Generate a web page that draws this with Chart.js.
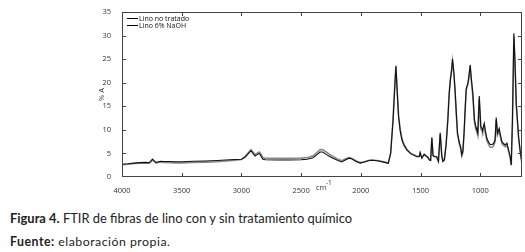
<!DOCTYPE html>
<html>
<head>
<meta charset="utf-8">
<script src="https://cdn.jsdelivr.net/npm/chart.js@4.4.1/dist/chart.umd.min.js"></script>
<style>
  html, body { margin: 0; padding: 0; background: #fff; }
  body { width: 525px; height: 252px; position: relative; overflow: hidden; font-family: Lato, 'Open Sans', sans-serif; color: #222; }
  #wrap { position: absolute; left: 0; top: 0; width: 525px; height: 200px; }
  .cap { position: absolute; left: 10px; white-space: nowrap; }
  #cap1 { top: 210px; font-size: 12.9px; }
  #cap2 { top: 234px; font-size: 12.3px; letter-spacing: 0.5px; }
  b { font-weight: 700; }
</style>
</head>
<body>
<div id="wrap"><canvas id="ftirChart"></canvas></div>
<div class="cap" id="cap1"><b>Figura 4.</b> FTIR de fibras de lino con y sin tratamiento químico</div>
<div class="cap" id="cap2"><b>Fuente:</b> elaboración propia.</div>
<script>
// wavenumbers (cm-1) and absorbance for both samples
const wavenumbers = [4000, 3950, 3900, 3850, 3800, 3775, 3760, 3745, 3730, 3715, 3700, 3680, 3650, 3600, 3550, 3500, 3450, 3400, 3300, 3200, 3100, 3050, 3000, 2970, 2940, 2920, 2900, 2885, 2865, 2850, 2835, 2820, 2800, 2700, 2600, 2500, 2450, 2400, 2370, 2340, 2320, 2290, 2250, 2200, 2160, 2130, 2100, 2080, 2040, 2005, 1970, 1930, 1900, 1850, 1800, 1770, 1750, 1730, 1715, 1706, 1695, 1684, 1670, 1656, 1640, 1614, 1580, 1530, 1510, 1503, 1489, 1469, 1455, 1440, 1425, 1415, 1405, 1395, 1385, 1365, 1350, 1335, 1322, 1313, 1300, 1285, 1270, 1260, 1250, 1240, 1232, 1220, 1209, 1200, 1190, 1173, 1165, 1154, 1145, 1135, 1125, 1117, 1103, 1094, 1084, 1075, 1062, 1048, 1035, 1028, 1020, 1008, 995, 985, 980, 966, 955, 944, 930, 916, 900, 888, 875, 866, 855, 841, 830, 818, 800, 790, 776, 765, 749, 740, 730, 718, 708, 698, 679, 665, 650];
const linoNoTratado = [2.7, 2.8, 2.95, 3.05, 3.1, 3.0, 3.3, 3.8, 3.4, 3.05, 3.2, 3.35, 3.3, 3.3, 3.25, 3.25, 3.3, 3.35, 3.4, 3.5, 3.65, 3.7, 3.75, 4.2, 5.0, 5.6, 4.9, 4.45, 4.8, 5.0, 4.4, 3.75, 3.65, 3.6, 3.6, 3.65, 3.75, 4.1, 4.7, 5.3, 5.3, 4.8, 4.2, 3.6, 3.2, 3.6, 4.0, 3.9, 3.3, 2.95, 3.2, 3.5, 3.55, 3.4, 3.1, 2.9, 5.0, 12.0, 19.5, 23.6, 18.0, 12.8, 9.8, 7.9, 6.8, 5.7, 4.9, 4.3, 4.3, 5.2, 4.0, 4.8, 4.5, 4.2, 3.6, 3.5, 8.4, 4.5, 4.3, 4.3, 3.3, 9.4, 4.5, 3.3, 3.6, 7.0, 12.5, 17.5, 20.5, 22.5, 25.0, 22.0, 17.8, 13.5, 9.3, 7.1, 6.5, 4.7, 5.5, 9.5, 15.0, 18.8, 19.9, 21.5, 23.8, 21.0, 17.8, 12.1, 10.5, 10.0, 9.3, 17.2, 10.7, 10.3, 10.0, 11.4, 9.5, 8.2, 7.4, 6.9, 6.9, 7.1, 8.0, 12.6, 9.3, 10.3, 8.8, 7.5, 7.0, 6.8, 7.2, 6.0, 4.3, 2.55, 12.0, 30.5, 24.0, 15.6, 8.6, 5.5, 2.9];
const linoNaOH = [2.6, 2.7, 2.85, 2.95, 3.0, 2.95, 3.2, 3.6, 3.3, 3.0, 3.1, 3.2, 3.1, 3.05, 3.0, 3.0, 3.05, 3.1, 3.15, 3.25, 3.45, 3.55, 3.7, 4.3, 5.2, 5.8, 5.2, 4.8, 5.1, 5.3, 4.8, 4.1, 4.0, 3.95, 3.95, 4.0, 4.1, 4.5, 5.1, 5.8, 5.8, 5.3, 4.6, 3.9, 3.45, 3.8, 4.1, 4.0, 3.45, 3.05, 3.25, 3.55, 3.6, 3.45, 3.15, 2.95, 5.1, 12.2, 19.6, 23.4, 18.2, 13.1, 10.1, 8.2, 7.0, 5.9, 5.0, 4.4, 4.4, 5.1, 4.1, 4.8, 4.5, 4.2, 3.7, 3.6, 8.1, 4.6, 4.4, 4.3, 3.4, 9.1, 4.6, 3.4, 3.7, 7.2, 12.8, 17.8, 20.8, 22.6, 24.6, 21.8, 17.5, 13.2, 9.0, 6.8, 6.2, 4.5, 5.3, 9.2, 14.7, 18.5, 19.6, 21.2, 23.5, 20.6, 17.3, 11.6, 10.0, 9.5, 8.8, 16.6, 10.2, 9.8, 9.5, 10.9, 9.0, 7.7, 6.9, 6.3, 6.3, 6.6, 7.5, 12.0, 8.9, 9.8, 8.4, 7.1, 6.6, 6.4, 6.8, 5.7, 4.1, 2.5, 11.8, 29.8, 23.6, 15.3, 8.4, 5.3, 2.8];

const xTicks = [4000, 3500, 3000, 2500, 2000, 1500, 1000];
const yTicks = [0, 5, 10, 15, 20, 25, 30, 35];

const toPoints = vals => wavenumbers.map((w, i) => ({ x: w, y: vals[i] }));

const tickFont = { family: "'Open Sans', sans-serif", size: 7.5 };

// box, inward ticks, legend and axis titles
const framePlugin = {
    id: 'frame',
    afterDraw(chart) {
        const ctx = chart.ctx;
        const a = chart.chartArea;
        const x = chart.scales.x, y = chart.scales.y;
        ctx.save();
        ctx.strokeStyle = '#444';
        ctx.lineWidth = 1;
        ctx.strokeRect(a.left + 0.5, a.top + 0.5, a.right - a.left - 1, a.bottom - a.top - 1);
        ctx.beginPath();
        xTicks.forEach(v => {
            const px = Math.round(x.getPixelForValue(v)) + 0.5;
            if (px <= a.left + 1 || px >= a.right - 1) return;
            ctx.moveTo(px, a.bottom); ctx.lineTo(px, a.bottom - 4);
            ctx.moveTo(px, a.top); ctx.lineTo(px, a.top + 4);
        });
        yTicks.forEach(v => {
            const py = Math.round(y.getPixelForValue(v)) + 0.5;
            if (py <= a.top + 1 || py >= a.bottom - 1) return;
            ctx.moveTo(a.left, py); ctx.lineTo(a.left + 4, py);
            ctx.moveTo(a.right, py); ctx.lineTo(a.right - 4, py);
        });
        ctx.stroke();

        // legend
        ctx.font = "7px 'Open Sans', sans-serif";
        ctx.fillStyle = '#111';
        ctx.textBaseline = 'middle';
        chart.data.datasets.forEach((ds, i) => {
            const ly = a.top + 6.5 + i * 7;
            ctx.beginPath();
            ctx.strokeStyle = '#000';
            ctx.lineWidth = 1;
            ctx.moveTo(a.left + 5, ly); ctx.lineTo(a.left + 16, ly);
            ctx.stroke();
            ctx.fillText(ds.label, a.left + 17, ly);
        });

        // axis titles
        ctx.fillStyle = '#333';
        ctx.font = "7.5px 'Open Sans', sans-serif";
        ctx.textAlign = 'left';
        ctx.textBaseline = 'alphabetic';
        ctx.fillText('cm', 316, 190);
        ctx.font = "6.5px 'Open Sans', sans-serif";
        ctx.fillText('-1', 326, 185);
        ctx.save();
        ctx.translate(102, (a.top + a.bottom) / 2);
        ctx.rotate(-Math.PI / 2);
        ctx.textAlign = 'center';
        ctx.textBaseline = 'middle';
        ctx.font = "7.5px 'Open Sans', sans-serif";
        ctx.fillText('% A', 0, 0);
        ctx.restore();
        ctx.restore();
    }
};

new Chart(document.getElementById('ftirChart'), {
    type: 'line',
    data: {
        datasets: [
            { label: 'Lino no tratado', data: toPoints(linoNoTratado), borderColor: '#111', borderWidth: 1.1, pointRadius: 0, tension: 0 },
            { label: 'Lino 6% NaOH', data: toPoints(linoNaOH), borderColor: '#8a8a8a', borderWidth: 1.6, pointRadius: 0, tension: 0 }
        ]
    },
    options: {
        responsive: true,
        maintainAspectRatio: false,
        animation: false,
        layout: { padding: { left: 92, top: 12, right: 3, bottom: 0 } },
        plugins: { legend: { display: false }, tooltip: { enabled: false } },
        scales: {
            x: {
                type: 'linear',
                reverse: true,
                min: 650,
                max: 4000,
                afterBuildTicks: s => { s.ticks = xTicks.map(v => ({ value: v })); },
                afterFit: s => { s.height = 23; },
                grid: { display: false },
                border: { display: false },
                ticks: { color: '#333', font: tickFont, padding: 1, maxRotation: 0, autoSkip: false, callback: v => String(v) }
            },
            y: {
                min: 0,
                max: 35,
                afterBuildTicks: s => { s.ticks = yTicks.map(v => ({ value: v })); },
                afterFit: s => { s.width = 30; },
                grid: { display: false },
                border: { display: false },
                ticks: { color: '#333', font: tickFont, padding: 3 }
            }
        }
    },
    plugins: [framePlugin]
});
</script>
</body>
</html>
